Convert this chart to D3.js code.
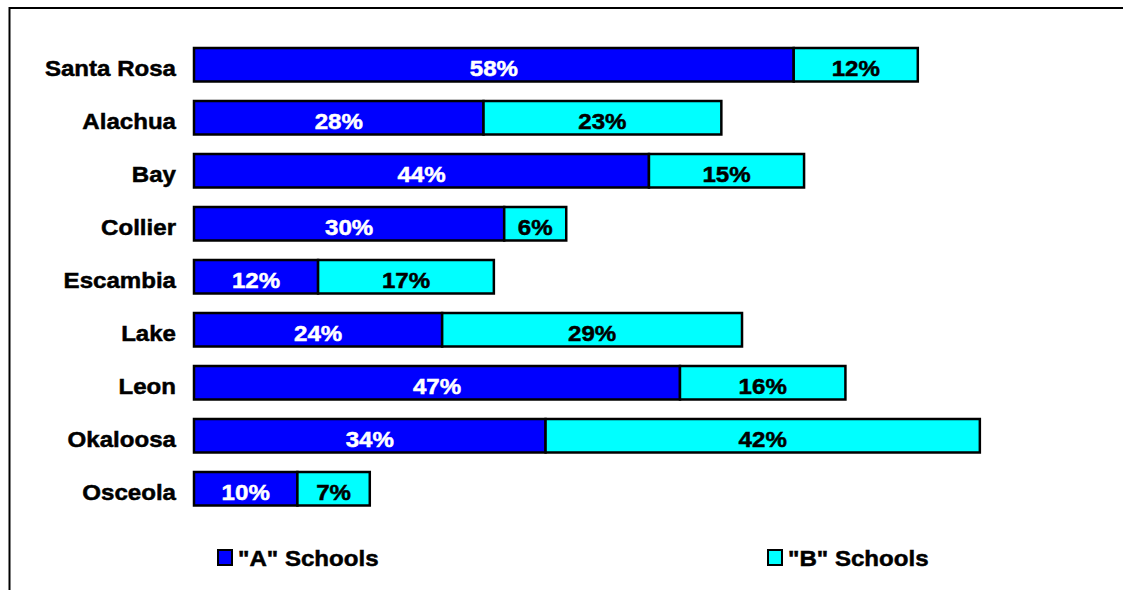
<!DOCTYPE html>
<html>
<head>
<meta charset="utf-8">
<script src="https://cdn.jsdelivr.net/npm/d3@7"></script>
<style>
  html, body { margin: 0; padding: 0; background: #fff; }
  svg { display: block; font-family: "Liberation Sans", Arial, sans-serif; }
</style>
</head>
<body>
<svg id="chart" width="1123" height="590"></svg>
<script>
// County names, top to bottom
const counties = ["Santa Rosa", "Alachua", "Bay", "Collier", "Escambia", "Lake", "Leon", "Okaloosa", "Osceola"];
// Share of "A" schools (%)
const aSchools = [58, 28, 44, 30, 12, 24, 47, 34, 10];
// Share of "B" schools (%)
const bSchools = [12, 23, 15, 6, 17, 29, 16, 42, 7];
// Legend entries
const seriesNames = ['"A" Schools', '"B" Schools'];
const seriesColors = ["#0000FF", "#00FFFF"];

const svg = d3.select("#chart");
const fontSize = 22.5;
const stretch = 1.07;

// Outer frame (runs off the right and bottom edges)
svg.append("rect")
  .attr("x", 9.5).attr("y", 8)
  .attr("width", 1200).attr("height", 700)
  .attr("fill", "none").attr("stroke", "#000").attr("stroke-width", 2);

const x = d3.scaleLinear().domain([0, 80]).range([194, 194 + 80 * 10.34]);
const y = d3.scaleBand().domain(counties)
  .range([38.25, 38.25 + 9 * 53])
  .paddingInner(0.368).paddingOuter(0.184);

const rows = counties.map((c, i) => ({ county: c, a: aSchools[i], b: bSchools[i] }));
const stack = d3.stack().keys(["a", "b"])(rows);

const layers = svg.append("g").selectAll("g").data(stack).join("g")
  .attr("fill", (d, i) => seriesColors[i]);

layers.selectAll("rect").data(d => d).join("rect")
  .attr("x", d => x(d[0]))
  .attr("y", d => y(d.data.county))
  .attr("width", d => x(d[1]) - x(d[0]))
  .attr("height", y.bandwidth())
  .attr("stroke", "#000").attr("stroke-width", 2.5);

// Bold label, slightly widened, with a thin outline to darken the strokes
function stretchedText(g, tx, ty, txt, anchor, color) {
  g.append("text")
    .attr("transform", `translate(${tx},${ty}) scale(${stretch},1)`)
    .attr("text-anchor", anchor)
    .attr("font-size", fontSize).attr("font-weight", "bold")
    .attr("fill", color)
    .attr("stroke", color).attr("stroke-width", 0.5)
    .text(txt);
}

// Value labels centred in each segment
const labels = svg.append("g");
stack.forEach((layer, i) => {
  layer.forEach(d => {
    const cx = (x(d[0]) + x(d[1])) / 2;
    const cy = y(d.data.county) + y.bandwidth() / 2 + 11;
    stretchedText(labels, cx, cy, (d[1] - d[0]) + "%", "middle", i === 0 ? "#fff" : "#000");
  });
});

// Category labels
counties.forEach(c => {
  stretchedText(labels, 176, y(c) + y.bandwidth() / 2 + 11, c, "end", "#000");
});

// Legend
const legendX = [218, 768];
seriesNames.forEach((name, i) => {
  svg.append("rect")
    .attr("x", legendX[i]).attr("y", 550)
    .attr("width", 14).attr("height", 15)
    .attr("fill", seriesColors[i]).attr("stroke", "#000").attr("stroke-width", 2);
  stretchedText(svg, legendX[i] + 20, 566, name, "start", "#000");
});
</script>
</body>
</html>
